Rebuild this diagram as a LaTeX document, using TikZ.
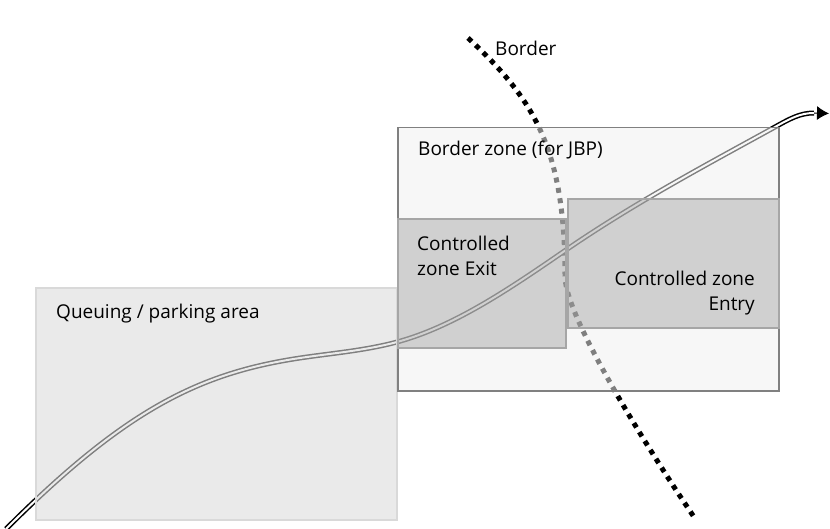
\documentclass[tikz,border=0pt]{standalone}
\usepackage{fontspec}
\setmainfont{Open Sans}
\usetikzlibrary{arrows.meta,positioning}

\begin{document}
\begin{tikzpicture}[x=1pt,y=-1pt,
	area/.style={draw=black!15,line width=2pt,fill=black!14,fill opacity=0.58,
		inner sep=0pt,anchor=north west},
	zone/.style={draw=black!50,line width=1.5pt,fill=black!6,fill opacity=0.53,
		inner sep=0pt,anchor=north west},
	ctrl/.style={draw=black!35,line width=2pt,fill=black!38,fill opacity=0.43,
		inner sep=0pt,anchor=north west},
	zonelbl/.style={inner sep=0pt,font=\fontsize{19}{25}\selectfont},
	road/.style={double=white,double distance=2pt,line width=1.5pt},
	border line/.style={line width=5pt,dash pattern=on 5pt off 5.5pt}]
	
	\useasboundingbox (0,0) rectangle (830,529);
	
	% border
	\coordinate (b0) at (468,38);
	\coordinate (b1) at (565,277);
	\coordinate (b2) at (694,517);
	\draw[border line] (b0) .. controls (535,100) and (565,150) .. (b1)
		.. controls (566,320) and (654,458) .. (b2);
	
	% road
	\coordinate (r0) at (6,529);
	\coordinate (r1) at (300,358);
	\coordinate (r2) at (397,342);
	\coordinate (r3) at (563,252);
	\coordinate (r4) at (775,127);
	\coordinate (r5) at (814,113);
	\coordinate (r6) at (829,113.5);
	\draw[road] (r0) .. controls (126,409) and (200,373) .. (r1)
		.. controls (332,353.2) and (365,350.6) .. (r2)
		.. controls (452,327.1) and (505,292) .. (r3)
		.. controls (633,203.7) and (705,165.5) .. (r4)
		.. controls (790,118.7) and (800,113) .. (r5);
	\draw[-{Latex[length=12pt,width=14pt]},line width=1pt] (r5) -- (r6);
	
	% areas
	\node[area,minimum width=361pt,minimum height=232pt] (queue) at (35,287) {};
	\node[zone,minimum width=381pt,minimum height=263pt] (bzone) at (397,127) {};
	\node[ctrl,minimum width=168pt,minimum height=129pt] (exit) at (397,218) {};
	\node[ctrl,minimum width=211pt,minimum height=129pt] (entry) at (567,198) {};
	
	\node[zonelbl,anchor=base west] (borderlbl) at (495,56) {Border};
	\node[zonelbl,anchor=base west] (queuelbl) at (56,319) {Queuing / parking area};
	\node[zonelbl,anchor=base west] (bzonelbl) at (418,156) {Border zone (for JBP)};
	\node[zonelbl,anchor=base west,align=left] (exitlbl) at (417,276) {Controlled\\zone Exit};
	\node[zonelbl,anchor=base east,align=right] (entrylbl) at (755,311) {Controlled zone\\Entry};
\end{tikzpicture}
\end{document}
